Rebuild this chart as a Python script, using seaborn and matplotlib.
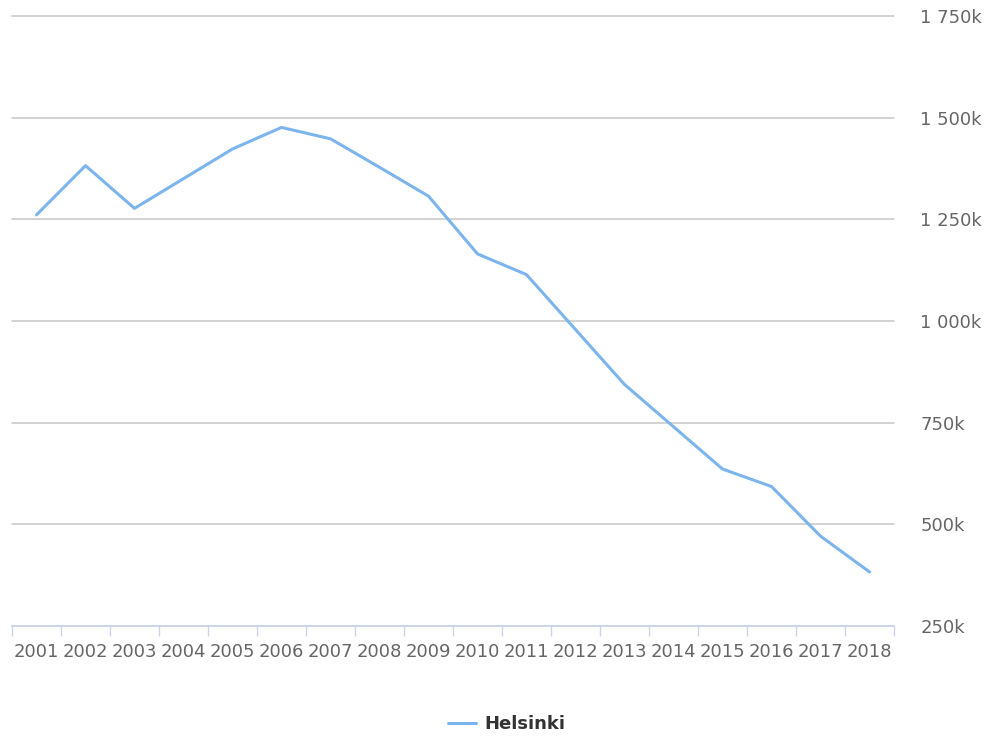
import numpy as np
import pandas as pd
import matplotlib
matplotlib.use("Agg")
import matplotlib.pyplot as plt
import seaborn as sns
from matplotlib.ticker import FuncFormatter, FixedLocator

# data
years = [str(y) for y in range(2001, 2019)]
helsinki = [1261000, 1382000, 1277000, 1350000, 1423000, 1476000, 1448000, 1378000, 1307000,
            1165000, 1114000, 979000, 844000, 740000, 636000, 593000, 471000, 383000]
y_ticks = [250000, 500000, 750000, 1000000, 1250000, 1500000, 1750000]

df = pd.DataFrame({"year": years, "value": helsinki})

sns.set_theme(style="white")
plt.rcParams['font.family'] = ['DejaVu Sans']

fig = plt.figure(figsize=(10, 7.36), dpi=100)
ax = fig.add_axes([0.012, 1 - 626 / 736, 0.882, (626 - 16) / 736])

sns.lineplot(data=df, x="year", y="value", color="#7cb5ec", linewidth=2.2, ax=ax,
             label="Helsinki", legend=False)

ax.set_xlim(-0.5, len(years) - 0.5)
ax.set_ylim(y_ticks[0], y_ticks[-1])

# y axis on the right, highcharts-ish
ax.yaxis.tick_right()
ax.yaxis.set_major_locator(FixedLocator(y_ticks))
ax.yaxis.set_major_formatter(FuncFormatter(lambda v, p: f"{v / 1000:,.0f}".replace(",", " ") + "k"))
ax.yaxis.grid(True, color="#c6c6c6", linewidth=1.1)
ax.tick_params(axis="y", length=0, pad=19, labelsize=13, labelcolor="#666666")
for lab in ax.get_yticklabels():
    lab.set_horizontalalignment("left")
for gl in ax.get_ygridlines():
    gl.set_clip_on(False)

# x axis: labels at centres, tick marks between categories
ax.set_xticks(range(len(years)))
ax.set_xticklabels(years)
ax.set_xticks(np.arange(-0.5, len(years), 1), minor=True)
ax.tick_params(axis="x", which="major", length=0, pad=12, labelsize=13, labelcolor="#666666")
ax.tick_params(axis="x", which="minor", length=7.5, width=1, color="#ccd6eb", bottom=True)

for s in ["top", "left", "right"]:
    ax.spines[s].set_visible(False)
ax.spines["bottom"].set_color("#ccd6eb")
ax.spines["bottom"].set_linewidth(1.2)
ax.spines["bottom"].set_zorder(3)

ax.set_xlabel("")
ax.set_ylabel("")

handles, labels = ax.get_legend_handles_labels()
leg = fig.legend(handles, labels, loc="center", bbox_to_anchor=(0.507, 1 - 724 / 736),
                 frameon=False, handlelength=1.5, handletextpad=0.5,
                 prop={"weight": "bold", "size": 13})
for t in leg.get_texts():
    t.set_color("#333333")

fig.savefig("out.png", dpi=100)
